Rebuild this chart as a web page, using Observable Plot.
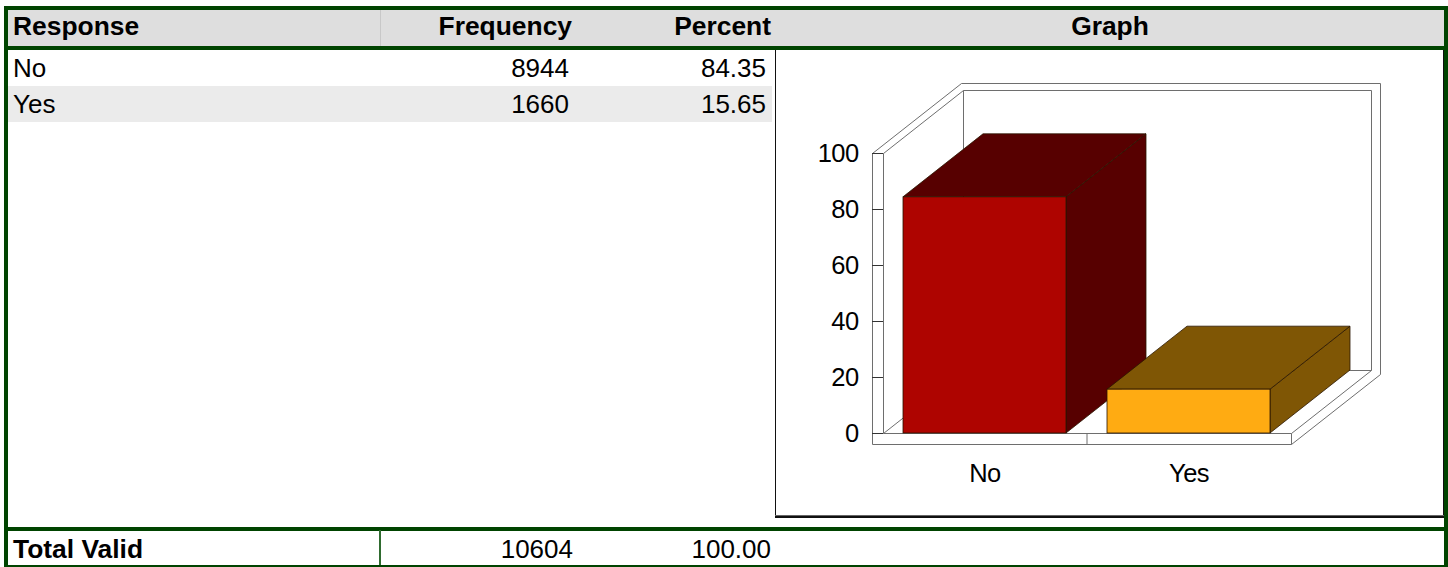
<!DOCTYPE html>
<html>
<head>
<meta charset="utf-8">
<script src="https://cdn.jsdelivr.net/npm/d3@7"></script>
<script src="https://cdn.jsdelivr.net/npm/@observablehq/plot@0.6"></script>
<style>
  html, body { margin: 0; padding: 0; background: #fff; overflow: hidden; }
  #page { position: relative; width: 1448px; height: 567px; font-family: "Liberation Sans", Arial, sans-serif; color: #000; overflow: hidden; }
  .box { position: absolute; }
  .txt { position: absolute; white-space: nowrap; line-height: 36px; height: 36px; font-size: 26px; }
  .b { font-weight: bold; font-size: 26.4px; }
  #chart { position: absolute; left: 776px; top: 50px; }
  #chart svg { display: block; background: #fff; overflow: visible; }
  #chart svg text { letter-spacing: -0.6px; }
</style>
</head>
<body>
<div id="page"><div id="chart"></div></div>
<script>
// ---- data ----
const headers = ["Response", "Frequency", "Percent", "Graph"];
const responses = ["No", "Yes"];
const frequencies = ["8944", "1660"];
const percents = [84.35, 15.65];
const percentLabels = ["84.35", "15.65"];
const totalLabel = "Total Valid";
const totalFrequency = "10604";
const totalPercent = "100.00";
const yTicks = [0, 20, 40, 60, 80, 100];
const frontColors = ["#ae0400", "#ffab12"];
const shadeColors = ["#570000", "#7f5605"];

// ---- table ----
const page = document.getElementById("page");
const GREEN = "#004400";
function box(l, t, w, h, c) {
  const d = document.createElement("div");
  d.className = "box";
  d.style.cssText = `left:${l}px;top:${t}px;width:${w}px;height:${h}px;background:${c}`;
  page.appendChild(d);
}
function text(s, cy, opts) {
  const d = document.createElement("div");
  d.className = "txt" + (opts.bold ? " b" : "");
  d.textContent = s;
  d.style.top = (cy - 18) + "px";
  if (opts.left != null) d.style.left = opts.left + "px";
  if (opts.right != null) d.style.right = (1448 - opts.right) + "px";
  if (opts.center != null) { d.style.left = opts.center + "px"; d.style.transform = "translateX(-50%)"; }
  page.appendChild(d);
}
box(7, 9, 1437, 37, "#dedede");
box(7, 86, 765, 36, "#ebebeb");
box(3.5, 5.5, 1444, 4, GREEN);
box(3.5, 46, 1444, 4, GREEN);
box(3.5, 5.5, 4, 561.5, GREEN);
box(1443.5, 5.5, 4, 561.5, GREEN);
box(3.5, 527, 1444, 3.5, GREEN);
box(3.5, 564.5, 1444, 2.5, GREEN);
box(379, 530, 1.5, 35, "#2f6b2f");
box(380, 9.5, 1, 36.5, "#c8c8c8");

text(headers[0], 26, { left: 13, bold: true });
text(headers[1], 26, { right: 572, bold: true });
text(headers[2], 26, { right: 771, bold: true });
text(headers[3], 26, { center: 1110, bold: true });
responses.forEach((r, i) => {
  const cy = 68 + i * 36;
  text(r, cy, { left: 13 });
  text(frequencies[i], cy, { right: 569 });
  text(percentLabels[i], cy, { right: 766 });
});
text(totalLabel, 549, { left: 13, bold: true });
text(totalFrequency, 549, { right: 573 });
text(totalPercent, 549, { right: 771 });

// ---- chart panel ----
box(775, 50, 1, 467, "#111");
box(1442.5, 50, 1, 467, "#111");
box(775, 515, 668.5, 1.2, "#666");
box(775, 516, 668.5, 1.6, "#111");

const rows = responses.map((r, i) => ({ response: r, percent: percents[i], front: frontColors[i], shade: shadeColors[i] }));
const DX = 80, DY = 63, WALL = 11, ODX = 89, ODY = 70;
const WALLC = "#6e6e6e";

function el(name, attrs) {
  const e = document.createElementNS("http://www.w3.org/2000/svg", name);
  for (const k in attrs) e.setAttribute(k, attrs[k]);
  return e;
}
function bw(x) { return typeof x.bandwidth === "function" ? x.bandwidth() : x.bandwidth; }

function walls(index, { x, y }, values, dims) {
  const g = el("g", { fill: "none", stroke: WALLC, "stroke-width": 1, transform: "translate(0.5,0.5)" });
  const x0 = dims.marginLeft, x1 = dims.width - dims.marginRight;
  const y0 = y(0), yt = y(100);
  const seg = (pts, fill) => g.appendChild(el("polygon", { points: pts.map(p => p.join(",")).join(" "), fill: fill || "#fff" }));
  const ln = (a, b) => g.appendChild(el("line", { x1: a[0], y1: a[1], x2: b[0], y2: b[1] }));
  // outer back wall
  seg([[x0 - WALL + ODX, yt - ODY], [x1 + ODX, yt - ODY], [x1 + ODX, y0 + WALL - ODY], [x1, y0 + WALL], [x0 - WALL, y0 + WALL], [x0 - WALL, yt]]);
  // inner back wall
  seg([[x0 + DX, yt - DY], [x1 + DX, yt - DY], [x1 + DX, y0 - DY], [x0 + DX, y0 - DY]]);
  // left wall
  ln([x0, yt], [x0 + DX, yt - DY]);
  ln([x0, y0], [x0 + DX, y0 - DY]);
  ln([x0, yt], [x0, y0]);
  ln([x0 - WALL, yt], [x0, yt]);
  // floor
  ln([x0, y0], [x1, y0]);
  ln([x1, y0], [x1 + DX, y0 - DY]);
  ln([x1, y0], [x1, y0 + WALL]);
  // divider between the two categories
  const mid = (x(responses[0]) + bw(x) + x(responses[1])) / 2;
  ln([mid, y0], [mid, y0 + WALL]);
  return g;
}

function barShade(index, { x, y }) {
  const g = el("g", {});
  const w = bw(x), y0 = y(0);
  rows.forEach(d => {
    const a = x(d.response), b = a + w, t = y(d.percent);
    const attrs = { fill: d.shade, stroke: "#2a1500", "stroke-width": 0.8, "stroke-linejoin": "round" };
    g.appendChild(el("polygon", { ...attrs, points: `${b},${t} ${b + DX},${t - DY} ${b + DX},${y0 - DY} ${b},${y0}` }));
    g.appendChild(el("polygon", { ...attrs, points: `${a},${t} ${a + DX},${t - DY} ${b + DX},${t - DY} ${b},${t}` }));
  });
  return g;
}

// Each bar's faces are separate marks, so the second bar's shaded faces must be
// drawn over the first bar's front: draw one layer per bar in data order.
const chart = Plot.plot({
  width: 667,
  height: 465,
  marginLeft: 107,
  marginRight: 152,
  marginTop: 103,
  marginBottom: 82,
  style: { fontFamily: "'Liberation Sans', Arial, sans-serif", fontSize: "25.5px", color: "#000", background: "#fff" },
  x: { type: "band", domain: responses, paddingInner: 0.2, paddingOuter: 0.1, label: null },
  y: { domain: [0, 100], label: null },
  marks: [
    walls,
    Plot.axisY({ ticks: yTicks, tickSize: WALL, tickPadding: 14, stroke: "#333", fontSize: 25.5, label: null, tickFormat: d => String(d) }),
    Plot.axisX({ tickSize: 0, tickPadding: 30, fontSize: 25.5, label: null }),
    barShade,
    Plot.barY(rows, { x: "response", y: "percent", fill: "front", stroke: "#2a1500", strokeWidth: 0.8 })
  ]
});
document.getElementById("chart").appendChild(chart);
</script>
</body>
</html>
